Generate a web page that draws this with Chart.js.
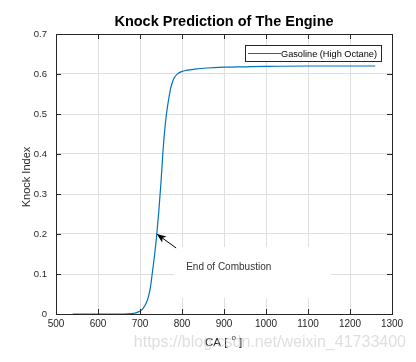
<!DOCTYPE html>
<html>
<head>
<meta charset="utf-8">
<script src="https://cdn.jsdelivr.net/npm/chart.js@4/dist/chart.umd.min.js"></script>
<style>
  body { margin: 0; background: #fff; }
  canvas { display: block; }
</style>
</head>
<body>
<canvas id="myChart" width="416" height="362"></canvas>
<script>
/*data*/
const crankAngle = [540, 560, 580, 600, 620, 640, 660, 680, 690, 698, 705, 710, 715, 720, 725, 729, 735, 740, 745, 750, 754, 758, 763, 768, 773, 778, 783, 790, 799, 810, 830, 860, 900, 950, 1000, 1100, 1200, 1260];
const knockIndex = [0, 0, 0, 0, 0, 0, 0, 0.001, 0.003, 0.006, 0.011, 0.018, 0.028, 0.043, 0.068, 0.1, 0.15, 0.2, 0.26, 0.33, 0.395, 0.45, 0.5, 0.535, 0.564, 0.582, 0.593, 0.601, 0.606, 0.609, 0.612, 0.615, 0.617, 0.618, 0.619, 0.62, 0.62, 0.62];
const xTicks = [500, 600, 700, 800, 900, 1000, 1100, 1200, 1300];
const yTicks = [0, 0.1, 0.2, 0.3, 0.4, 0.5, 0.6, 0.7];
const seriesName = 'Gasoline (High Octane)';
const chartTitle = 'Knock Prediction of The Engine';
const noteText = 'End of Combustion';
const notePoint = [740, 0.2];

const FONT = '"Liberation Sans", Arial, sans-serif';
const AXIS = '#262626';
const BLUE = '#0072BD';

/*extra drawing: box, inner ticks, labels, legend, note*/
const matlabLook = {
  id: 'matlabLook',
  afterDraw(chart) {
    const c = chart.ctx, a = chart.chartArea;
    const sx = chart.scales.x, sy = chart.scales.y;
    c.save();

    // note background hides the grid
    const bx1 = sx.getPixelForValue(781), bx2 = sx.getPixelForValue(1155);
    const by1 = sy.getPixelForValue(0.1675), by2 = sy.getPixelForValue(0.04);
    c.fillStyle = '#fff';
    c.fillRect(bx1, by1, bx2 - bx1, by2 - by1);

    // axes box
    c.strokeStyle = AXIS;
    c.lineWidth = 1;
    c.strokeRect(Math.round(a.left) + 0.5, Math.round(a.top) + 0.5, Math.round(a.right - a.left), Math.round(a.bottom - a.top));

    // inward ticks on all sides
    c.beginPath();
    xTicks.forEach(v => {
      const px = Math.round(sx.getPixelForValue(v)) + 0.5;
      c.moveTo(px, a.bottom); c.lineTo(px, a.bottom - 5);
      c.moveTo(px, a.top); c.lineTo(px, a.top + 5);
    });
    yTicks.forEach(v => {
      const py = Math.round(sy.getPixelForValue(v)) + 0.5;
      c.moveTo(a.left, py); c.lineTo(a.left + 5, py);
      c.moveTo(a.right, py); c.lineTo(a.right - 5, py);
    });
    c.stroke();

    // arrow to end of combustion
    const tipX = sx.getPixelForValue(notePoint[0]), tipY = sy.getPixelForValue(notePoint[1]);
    const tailX = sx.getPixelForValue(786), tailY = sy.getPixelForValue(0.165);
    const ang = Math.atan2(tipY - tailY, tipX - tailX);
    c.strokeStyle = '#000';
    c.beginPath();
    c.moveTo(tailX, tailY); c.lineTo(tipX, tipY);
    c.stroke();
    c.fillStyle = '#000';
    c.beginPath();
    c.moveTo(tipX, tipY);
    c.lineTo(tipX - 10 * Math.cos(ang - 0.38), tipY - 10 * Math.sin(ang - 0.38));
    c.lineTo(tipX - 7 * Math.cos(ang), tipY - 7 * Math.sin(ang));
    c.lineTo(tipX - 10 * Math.cos(ang + 0.38), tipY - 10 * Math.sin(ang + 0.38));
    c.closePath();
    c.fill();

    c.fillStyle = '#333';
    c.font = '10px ' + FONT;
    c.textAlign = 'left';
    c.textBaseline = 'middle';
    c.fillText(noteText, sx.getPixelForValue(810), sy.getPixelForValue(0.118));

    // legend
    c.fillStyle = '#fff';
    c.fillRect(245, 45, 137, 16);
    c.strokeStyle = '#262626';
    c.strokeRect(245.5, 45.5, 136, 16);
    c.strokeStyle = BLUE;
    c.beginPath(); c.moveTo(248, 53.5); c.lineTo(281, 53.5); c.stroke();
    c.fillStyle = '#000';
    c.font = '9.2px ' + FONT;
    c.fillText(seriesName, 281, 54);

    // title
    c.fillStyle = '#000';
    c.font = 'bold 14.5px ' + FONT;
    c.textAlign = 'center';
    c.fillText(chartTitle, (a.left + a.right) / 2, 22);

    // y axis label
    c.fillStyle = AXIS;
    c.font = '11px ' + FONT;
    c.save();
    c.translate(26.5, 177);
    c.rotate(-Math.PI / 2);
    c.fillText('Knock Index', 0, 0);
    c.restore();

    // x axis label with raised degree mark
    c.textAlign = 'left';
    c.font = '11.5px ' + FONT;
    let x = 205;
    c.fillText('CA [', x, 342.5);
    x += c.measureText('CA [ ').width;
    c.font = '8px ' + FONT;
    c.fillText('o', x + 1, 338);
    x += c.measureText('o').width + 4;
    c.font = '11.5px ' + FONT;
    c.fillText(']', x, 342.5);

    // watermark
    c.fillStyle = 'rgba(195,195,195,0.55)';
    c.font = '16px ' + FONT;
    c.textAlign = 'right';
    c.fillText('https://blog.csdn.net/weixin_41733400', 406, 343);

    c.restore();
  }
};

const ctx = document.getElementById('myChart').getContext('2d');
const myChart = new Chart(ctx, {
  type: 'scatter',
  data: {
    datasets: [{
      label: seriesName,
      data: crankAngle.map((v, i) => ({ x: v, y: knockIndex[i] })),
      showLine: true,
      borderColor: BLUE,
      borderWidth: 1.2,
      pointRadius: 0,
      cubicInterpolationMode: 'monotone'
    }]
  },
  options: {
    responsive: false,
    animation: false,
    layout: { padding: { top: 34, right: 24, left: 0, bottom: 0 } },
    plugins: {
      legend: { display: false },
      title: { display: false },
      tooltip: { enabled: false }
    },
    scales: {
      x: {
        type: 'linear',
        min: 500, max: 1300,
        afterFit: s => { s.height = 48; },
        afterBuildTicks: s => { s.ticks = xTicks.map(v => ({ value: v })); },
        grid: { color: '#dfdfdf', drawTicks: false },
        border: { display: false },
        ticks: { color: AXIS, font: { family: FONT, size: 10 }, padding: 4, maxRotation: 0, callback: v => String(v) }
      },
      y: {
        min: 0, max: 0.7,
        afterFit: s => { s.width = 56; },
        afterBuildTicks: s => { s.ticks = yTicks.map(v => ({ value: v })); },
        grid: { color: '#dfdfdf', drawTicks: false },
        border: { display: false },
        ticks: { color: AXIS, font: { family: FONT, size: 9.5 }, padding: 9, callback: v => String(Math.round(v * 10) / 10) }
      }
    }
  },
  plugins: [matlabLook]
});
</script>
</body>
</html>
